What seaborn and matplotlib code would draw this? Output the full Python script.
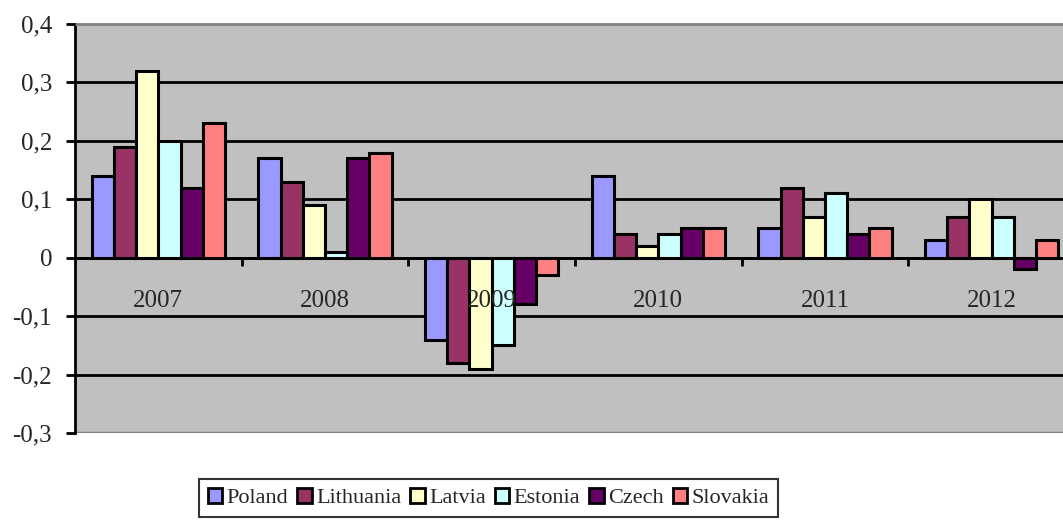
"""
Annual growth by country, 2007-2012: grouped bar chart drawn in the old Excel style.
"""

import pandas as pd
import numpy as np
import matplotlib.pyplot as plt
import seaborn as sns

years = ["2007", "2008", "2009", "2010", "2011", "2012"]
countries = ["Poland", "Lithuania", "Latvia", "Estonia", "Czech", "Slovakia"]

poland = [0.14, 0.17, -0.14, 0.14, 0.05, 0.03]
lithuania = [0.19, 0.13, -0.18, 0.04, 0.12, 0.07]
latvia = [0.32, 0.09, -0.19, 0.02, 0.07, 0.10]
estonia = [0.20, 0.01, -0.15, 0.04, 0.11, 0.07]
czech = [0.12, 0.17, -0.08, 0.05, 0.04, -0.02]
slovakia = [0.23, 0.18, -0.03, 0.05, 0.05, 0.03]

colors = ["#9999FF", "#993366", "#FFFFCC", "#CCFFFF", "#660066", "#FF8080"]

y_ticks = [0.4, 0.3, 0.2, 0.1, 0, -0.1, -0.2, -0.3]
y_labels = ["0,4", "0,3", "0,2", "0,1", "0", "-0,1", "-0,2", "-0,3"]

FS = 18


def build_frame():
    series = [poland, lithuania, latvia, estonia, czech, slovakia]
    rows = []
    for name, vals in zip(countries, series):
        for yr, v in zip(years, vals):
            rows.append({"Year": yr, "Country": name, "Value": v})
    return pd.DataFrame(rows)


def main():
    sns.set_theme(style="white")
    plt.rcParams["font.family"] = ["Liberation Serif", "DejaVu Serif"]

    df = build_frame()

    fig = plt.figure(figsize=(10.63, 5.23), dpi=100)
    # plot area runs a little past the right edge, as in the reference
    ax = fig.add_axes([75 / 1063, 90 / 523, 1000 / 1063, 409 / 523])
    ax.set_facecolor("#C0C0C0")

    # gridlines by hand so they sit under the bars while tick labels stay on top
    for yv in y_ticks[1:-1]:
        ax.axhline(yv, color="black", linewidth=2, zorder=1)

    sns.barplot(
        data=df, x="Year", y="Value", hue="Country",
        order=years, hue_order=countries, palette=colors, saturation=1,
        width=0.8, edgecolor="black", linewidth=2.2,
        errorbar=None, legend=False, ax=ax, zorder=2,
    )

    ax.set_ylim(-0.3, 0.4)
    ax.set_xlim(-0.5, len(years) - 0.5)
    ax.set_yticks(y_ticks)
    ax.set_yticklabels(y_labels, fontsize=FS)
    ax.grid(False)
    ax.set_axisbelow(False)
    ax.set_xlabel("")
    ax.set_ylabel("")

    # frame: grey top/right/bottom, black value axis, black category axis at zero
    for s in ["top", "right"]:
        ax.spines[s].set_color("#808080")
        ax.spines[s].set_linewidth(2)
    ax.spines["left"].set_color("black")
    ax.spines["left"].set_linewidth(2)
    ax.spines["bottom"].set_position(("data", 0))
    ax.spines["bottom"].set_color("black")
    ax.spines["bottom"].set_linewidth(2)
    ax.axhline(-0.3, color="#808080", linewidth=2.5, zorder=1)

    ax.tick_params(axis="y", direction="out", length=6.5, width=2, color="black", pad=10, left=True)

    # category labels below the zero line, boundary ticks hang from it
    ax.set_xticks(range(len(years)))
    ax.set_xticklabels(years, fontsize=FS)
    ax.tick_params(axis="x", which="major", length=0, pad=23)
    ax.set_xticks(np.arange(0.5, len(years) - 0.5, 1.0), minor=True)
    ax.tick_params(axis="x", which="minor", direction="out", length=6, width=2,
                   color="black", bottom=True)

    handles = [plt.Rectangle((0, 0), 1, 1, facecolor=c, edgecolor="black", linewidth=2) for c in colors]
    leg = fig.legend(
        handles, countries, loc="upper left",
        bbox_to_anchor=(199 / 1063, 1 - 479 / 523),
        ncol=6, frameon=True, fancybox=False, fontsize=16,
        handlelength=0.65, handleheight=0.65, handletextpad=0.2,
        columnspacing=0.4, borderpad=0.4, borderaxespad=0,
    )
    leg.get_frame().set_edgecolor("black")
    leg.get_frame().set_linewidth(1.5)

    fig.savefig("out.png", dpi=100)
    plt.close(fig)


if __name__ == "__main__":
    main()
